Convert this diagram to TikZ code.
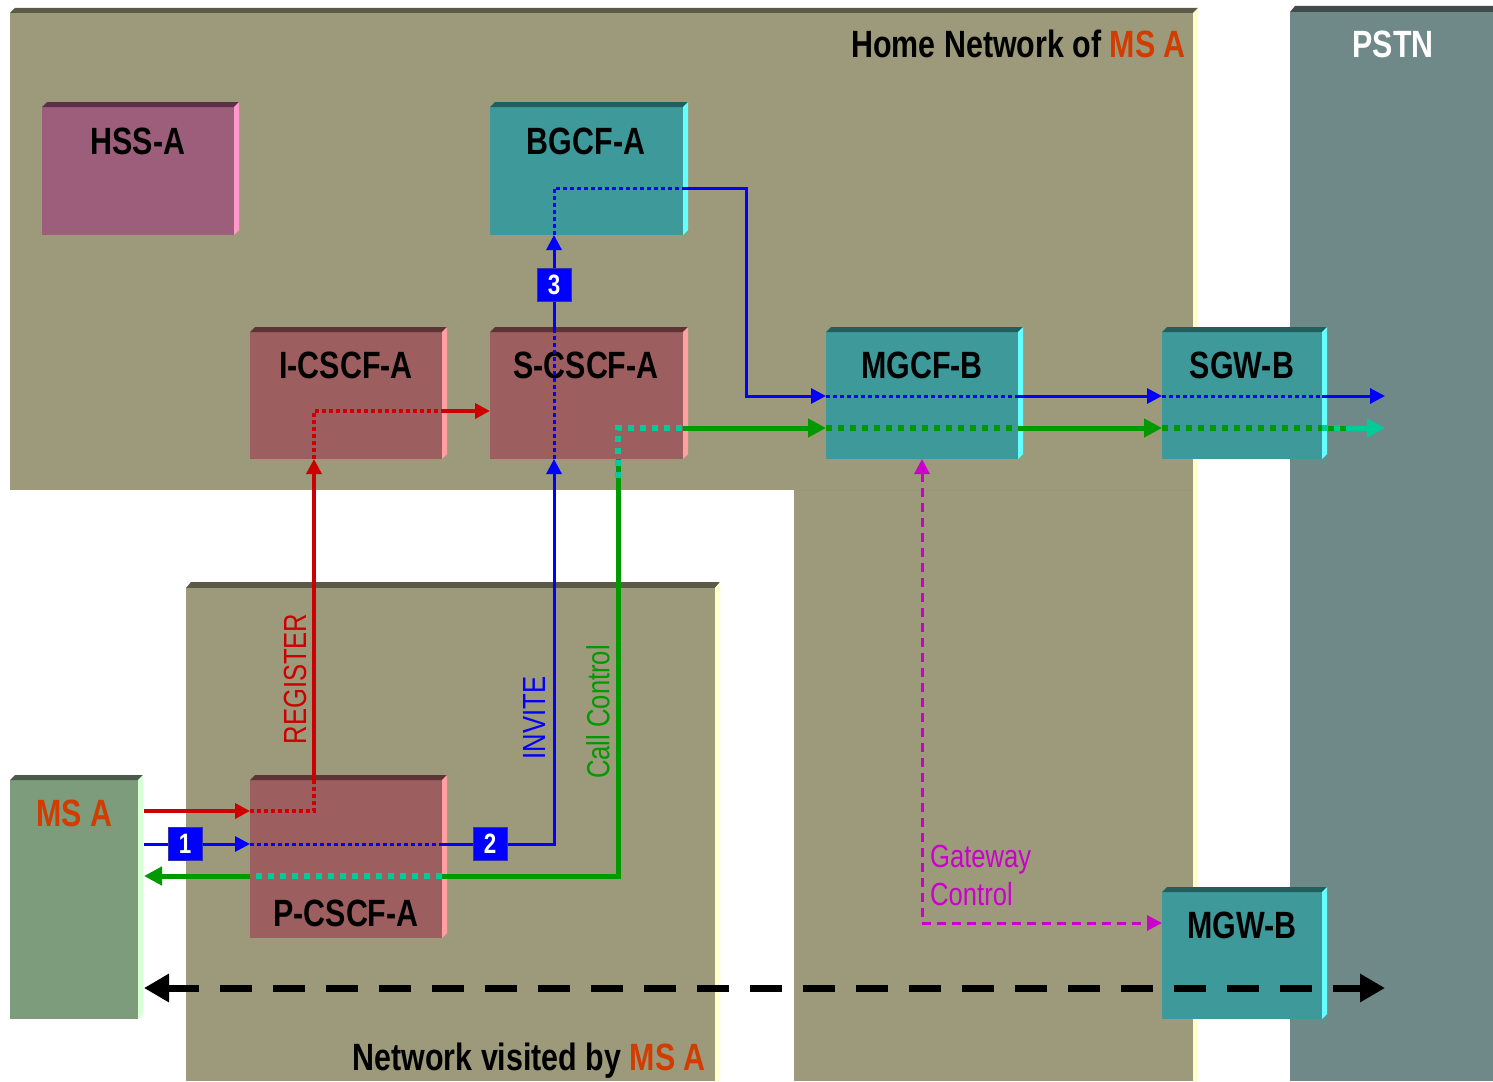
\documentclass[tikz,border=0pt]{standalone}
\usepackage{fontspec}
\usetikzlibrary{arrows.meta}
\newfontfamily\narfam[FakeStretch=0.8]{Liberation Sans}
\definecolor{olFace}{HTML}{9C9A7B}
\definecolor{olTop}{HTML}{5A5A46}
\definecolor{olSide}{HTML}{FFFFCC}
\definecolor{pFace}{HTML}{6F8888}
\definecolor{pTop}{HTML}{3F4C4C}
\definecolor{msFace}{HTML}{7C9C7C}
\definecolor{msTop}{HTML}{4A5A4A}
\definecolor{msSide}{HTML}{D9FFD9}
\definecolor{hsFace}{HTML}{9C5E7A}
\definecolor{hsTop}{HTML}{5C3048}
\definecolor{hsSide}{HTML}{FF99CC}
\definecolor{csFace}{HTML}{9C5E5E}
\definecolor{csTop}{HTML}{5C3434}
\definecolor{csSide}{HTML}{FF9F9F}
\definecolor{tlFace}{HTML}{3E9A9A}
\definecolor{tlTop}{HTML}{235E5E}
\definecolor{tlSide}{HTML}{66FFFF}
\definecolor{cRed}{HTML}{CC0000}
\definecolor{cBlue}{HTML}{0000FF}
\definecolor{cGreen}{HTML}{009900}
\definecolor{cTeal}{HTML}{00CC99}
\definecolor{cMag}{HTML}{CC00CC}
\definecolor{msOr}{HTML}{D23C00}
\definecolor{cNumBd}{HTML}{3333AA}
\begin{document}
\begin{tikzpicture}[x=1pt,y=-1pt,
  face/.style={inner sep=0pt, outer sep=0pt, anchor=north west, draw=none},
  boxlbl/.style={font=\narfam\bfseries\fontsize{38}{44}\selectfont, anchor=base, inner sep=0pt},
  rotlbl/.style={rotate=90, font=\narfam\fontsize{32}{36}\selectfont, inner sep=0pt},
  plainlbl/.style={font=\narfam\fontsize{32}{36}\selectfont, inner sep=0pt, anchor=base west},
  numb/.style={fill=cBlue, draw=cNumBd, line width=0.8pt, minimum width=34pt, minimum height=33pt, inner sep=0pt, text=white, font=\narfam\bfseries\fontsize{28}{30}\selectfont},
  regl/.style={draw=cRed, line width=3.5pt},
  blul/.style={draw=cBlue, line width=3pt},
  grn/.style={draw=cGreen, line width=5pt},
  dotR/.style={dash pattern=on 4pt off 3pt},
  dotB/.style={dash pattern=on 4pt off 3pt},
  dotG/.style={line width=6pt, dash pattern=on 6pt off 6pt},
  tdot/.style={draw=cTeal, line width=6pt, dash pattern=on 6pt off 6pt},
  tipS/.style={-{Triangle[length=15pt,width=15pt]}},
  tipG/.style={-{Triangle[length=18pt,width=18pt]}},
  mag/.style={draw=cMag, line width=3pt, dash pattern=on 9pt off 6pt},
  blk/.style={draw=black, line width=7pt, dash pattern=on 32pt off 21pt}
]
\useasboundingbox (0,0) rectangle (1493,1081);
\fill[white] (0,0) rectangle (1493,1081);
% ---------- backgrounds ----------
% home network
\fill[olTop] (10,13) -- (15,8) -- (1198,8) -- (1193,13) -- cycle;
\fill[olSide] (1193,13) -- (1198,8) -- (1198,1081) -- (1193,1081) -- cycle;
\fill[olFace] (10,13) rectangle (1193,490);
\fill[olFace] (794,490) rectangle (1193,1081);
\draw[draw=olFace!85!gray, line width=0.8pt] (794,490.5) -- (1193,490.5);
% visited network
\fill[olTop] (186,588) -- (191,582) -- (720,582) -- (715,588) -- cycle;
\fill[olSide] (715,588) -- (720,582) -- (720,1081) -- (715,1081) -- cycle;
\fill[olFace] (186,588) rectangle (715,1081);
% PSTN
\fill[pTop] (1290,12) -- (1295,6) -- (1493,6) -- (1493,12) -- cycle;
\fill[pFace] (1290,12) rectangle (1493,1081);
% ---------- boxes ----------
\node[face, fill=msFace, minimum width=128pt, minimum height=239pt] (msa) at (10,780) {};
\node[face, fill=hsFace, minimum width=192pt, minimum height=128pt] (hss) at (42,107) {};
\node[face, fill=tlFace, minimum width=193pt, minimum height=128pt] (bgcf) at (490,107) {};
\node[face, fill=csFace, minimum width=192pt, minimum height=127pt] (icscf) at (250,332) {};
\node[face, fill=csFace, minimum width=193pt, minimum height=127pt] (scscf) at (490,332) {};
\node[face, fill=tlFace, minimum width=192pt, minimum height=127pt] (mgcf) at (826,332) {};
\node[face, fill=tlFace, minimum width=160pt, minimum height=127pt] (sgw) at (1162,332) {};
\node[face, fill=tlFace, minimum width=160pt, minimum height=127pt] (mgw) at (1162,892) {};
\node[face, fill=csFace, minimum width=192pt, minimum height=158pt] (pcscf) at (250,780) {};
\foreach \n/\t/\s in {msa/msTop/msSide, hss/hsTop/hsSide, bgcf/tlTop/tlSide, icscf/csTop/csSide, scscf/csTop/csSide, mgcf/tlTop/tlSide, sgw/tlTop/tlSide, mgw/tlTop/tlSide, pcscf/csTop/csSide}{
  \fill[\t] (\n.north west) -- ++(5,-5) -- ([shift={(5,-5)}]\n.north east) -- (\n.north east) -- cycle;
  \fill[\s] (\n.north east) -- ([shift={(5,-5)}]\n.north east) -- ([shift={(5,-5)}]\n.south east) -- (\n.south east) -- cycle;
}
% ---------- texts ----------
\node[boxlbl, anchor=base east] (thome) at (1186,58) {Home Network of \textcolor{msOr}{MS A}};
\node[boxlbl, anchor=base east] (tvis) at (706,1070) {Network visited by \textcolor{msOr}{MS A}};
\node[boxlbl, text=white] (tpstn) at (1393,58) {PSTN};
\node[boxlbl] (thss) at (138,154) {HSS-A};
\node[boxlbl] (tbgcf) at (586,154) {BGCF-A};
\node[boxlbl] (ticscf) at (346,378) {I-CSCF-A};
\node[boxlbl] (tscscf) at (586,378) {S-CSCF-A};
\node[boxlbl] (tmgcf) at (922,378) {MGCF-B};
\node[boxlbl] (tsgw) at (1242,378) {SGW-B};
\node[boxlbl] (tmgw) at (1242,938) {MGW-B};
\node[boxlbl] (tpcscf) at (346,926) {P-CSCF-A};
\node[boxlbl, text=msOr] (tmsa) at (74,826) {MS A};
\node[rotlbl, text=cRed] (treg) at (295,679) {REGISTER};
\node[rotlbl, text=cBlue] (tinv) at (534,718) {INVITE};
\node[rotlbl, text=cGreen] (tcc) at (598,712) {Call Control};
\node[plainlbl, text=cMag] (tgw1) at (930,867) {Gateway};
\node[plainlbl, text=cMag] (tgw2) at (930,905) {Control};
% ---------- helper coordinates ----------
\coordinate (yreg) at (0,811);
\coordinate (yreg2) at (0,411);
\coordinate (xreg) at (314,0);
\coordinate (yinv) at (0,844);
\coordinate (xinv) at (554,0);
\coordinate (ybg) at (0,188);
\coordinate (xbg) at (746,0);
\coordinate (ymg) at (0,396);
\coordinate (xend) at (1385,0);
\coordinate (ycc) at (0,876);
\coordinate (xcc) at (618,0);
\coordinate (ygr) at (0,428);
\coordinate (ytl) at (0,478);
\coordinate (xgt) at (1346,0);
\coordinate (ygw) at (0,923);
\coordinate (yblk) at (0,988);
% ---------- red REGISTER ----------
\draw[regl, tipS] ([xshift=6pt]msa.east |- yreg) -- (pcscf.west |- yreg);
\draw[regl, dotR] (pcscf.west |- yreg) -- (xreg |- yreg) -- (xreg |- pcscf.north);
\draw[regl, tipS] (xreg |- pcscf.north) -- (xreg |- icscf.south);
\draw[regl, dotR] (xreg |- icscf.south) -- (xreg |- yreg2) -- (icscf.east |- yreg2);
\draw[regl, tipS] (icscf.east |- yreg2) -- (scscf.west |- yreg2);
% ---------- blue INVITE ----------
\draw[blul, tipS] ([xshift=6pt]msa.east |- yinv) -- (pcscf.west |- yinv);
\draw[blul, dotB] (pcscf.west |- yinv) -- (pcscf.east |- yinv);
\draw[blul, tipS] (pcscf.east |- yinv) -- (xinv |- yinv) -- (xinv |- scscf.south);
\draw[blul, dotB] (xinv |- scscf.south) -- (xinv |- scscf.north);
\draw[blul, tipS] (xinv |- scscf.north) -- (xinv |- bgcf.south);
\draw[blul, dotB] (xinv |- bgcf.south) -- (xinv |- ybg) -- (bgcf.east |- ybg);
\draw[blul, tipS] (bgcf.east |- ybg) -- (xbg |- ybg) -- (xbg |- ymg) -- (mgcf.west |- ymg);
\draw[blul, dotB] (mgcf.west |- ymg) -- (mgcf.east |- ymg);
\draw[blul, tipS] (mgcf.east |- ymg) -- (sgw.west |- ymg);
\draw[blul, dotB] (sgw.west |- ymg) -- (sgw.east |- ymg);
\draw[blul, tipS] (sgw.east |- ymg) -- (xend |- ymg);
% ---------- green call control ----------
\draw[grn] (xcc |- scscf.south) -- (xcc |- ycc) -- (pcscf.east |- ycc);
\draw[tdot] (pcscf.east |- ycc) -- (pcscf.west |- ycc);
\draw[grn, tipG] (pcscf.west |- ycc) -- ([xshift=6pt]msa.east |- ycc);
\draw[tdot] (xcc |- ytl) -- (xcc |- ygr) -- (scscf.east |- ygr);
\draw[grn, tipG] (scscf.east |- ygr) -- (mgcf.west |- ygr);
\draw[grn, dotG] (mgcf.west |- ygr) -- (mgcf.east |- ygr);
\draw[grn, tipG] (mgcf.east |- ygr) -- (sgw.west |- ygr);
\draw[grn, dotG] (sgw.west |- ygr) -- (sgw.east |- ygr);
\draw[grn] (sgw.east |- ygr) -- (xgt |- ygr);
\draw[tdot] (sgw.east |- ygr) -- (xgt |- ygr);
\draw[draw=cTeal, line width=5pt, tipG] (xgt |- ygr) -- (xend |- ygr);
% ---------- magenta gateway control ----------
\draw[mag, {Triangle[length=15pt,width=15pt]}-{Triangle[length=15pt,width=15pt]}] (mgcf.south) -- (mgcf.south |- ygw) -- (mgw.west |- ygw);
% ---------- black bearer ----------
\draw[blk, {Triangle[length=25pt,width=27pt]}-{Triangle[length=25pt,width=27pt]}] ([xshift=6pt]msa.east |- yblk) -- (xend |- yblk);
% ---------- numbers ----------
\node[numb] (n1) at (185,844) {1};
\node[numb] (n2) at (490,844) {2};
\node[numb] (n3) at (554,285) {3};
\end{tikzpicture}
\end{document}
